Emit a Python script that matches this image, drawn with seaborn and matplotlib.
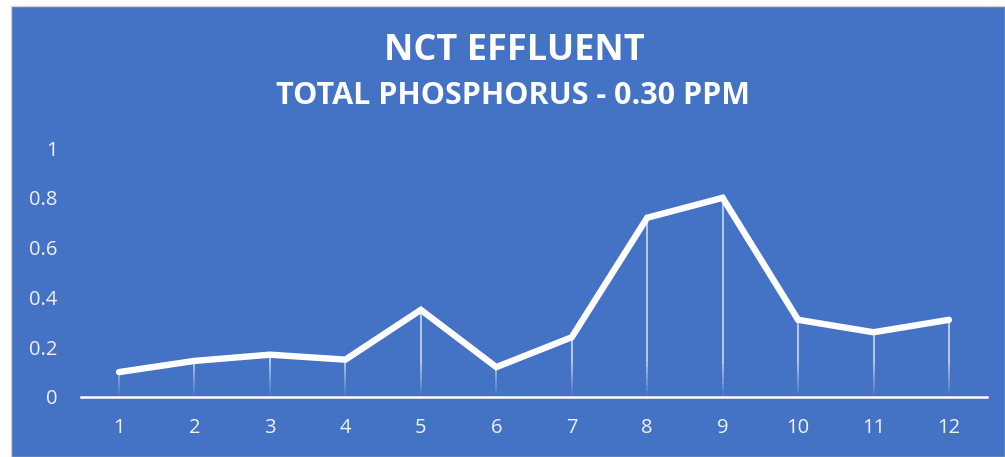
import numpy as np
import pandas as pd
import matplotlib
matplotlib.use("Agg")
import matplotlib.pyplot as plt
import seaborn as sns
from matplotlib.patches import Rectangle

months = [1, 2, 3, 4, 5, 6, 7, 8, 9, 10, 11, 12]
phosphorus = [0.10, 0.145, 0.17, 0.15, 0.35, 0.12, 0.24, 0.72, 0.80, 0.31, 0.26, 0.31]
y_ticks = [0, 0.2, 0.4, 0.6, 0.8, 1]
y_tick_labels = ["0", "0.2", "0.4", "0.6", "0.8", "1"]

title = "NCT EFFLUENT"
subtitle = "TOTAL PHOSPHORUS - 0.30 PPM"

bg = "#4472C4"
df = pd.DataFrame({"Month": months, "TP": phosphorus})

sns.set_style("white")
plt.rcParams["font.family"] = ["Open Sans", "DejaVu Sans"]

fig = plt.figure(figsize=(10.05, 4.57), dpi=100)
fig.patch.set_facecolor("white")
fig.patches.append(Rectangle((10.5 / 1005, 0), 1 - 10.5 / 1005, 1 - 5.5 / 457,
                             transform=fig.transFigure, facecolor=bg,
                             edgecolor="#d0d0d0", linewidth=1, zorder=-5))

ax = fig.add_axes([0.0809, 0.1313, 0.9009, 0.5448])
ax.set_facecolor("none")

# drop lines, fading out towards the axis
n_seg = 30
for x, y in zip(months, phosphorus):
    edges = np.linspace(0, y, n_seg + 1)
    for i in range(n_seg):
        frac = (edges[i] + edges[i + 1]) / 2
        a = min(1.0, (frac / 0.15)) * 0.8
        ax.plot([x, x], [edges[i], edges[i + 1]], color="white", alpha=a,
                lw=1.1, solid_capstyle="butt", zorder=1)

sns.lineplot(data=df, x="Month", y="TP", ax=ax, color="white", linewidth=4.6,
             solid_capstyle="round", solid_joinstyle="miter", zorder=3)

ax.set_xlim(0.5, 12.5)
ax.set_ylim(0, 1)
ax.set_xticks(months)
ax.set_xticklabels([str(m) for m in months])
ax.set_yticks(y_ticks)
ax.set_yticklabels(y_tick_labels)
ax.tick_params(axis="both", length=0, labelsize=14.5, labelcolor="#f2f2f2")
ax.tick_params(axis="x", pad=15)
ax.tick_params(axis="y", pad=17)
ax.set_xlabel("")
ax.set_ylabel("")

for s in ["top", "right", "left"]:
    ax.spines[s].set_visible(False)
ax.spines["bottom"].set_color("white")
ax.spines["bottom"].set_linewidth(1.8)
ax.spines["bottom"].set_zorder(4)

fig.text(0.512, 1 - 51 / 457, title, color="white", fontsize=26, fontweight="bold",
         ha="center", va="center")
fig.text(0.510, 1 - 96 / 457, subtitle, color="white", fontsize=22, fontweight="bold",
         ha="center", va="center")

fig.savefig("out.png", dpi=100, facecolor=fig.get_facecolor())
